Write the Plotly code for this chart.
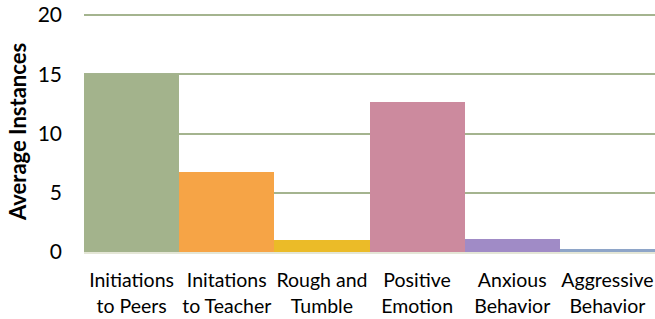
import plotly.graph_objects as go

categories = ["Initiations<br>to Peers", "Initations<br>to Teacher", "Rough and<br>Tumble",
              "Positive<br>Emotion", "Anxious<br>Behavior", "Aggressive<br>Behavior"]
values = [15.0, 6.75, 1.0, 12.65, 1.1, 0.25]
colors = ["#a3b38c", "#f6a446", "#ebbb28", "#cc8a9e", "#a08bc6", "#8ea5c8"]
y_ticks = [0, 5, 10, 15, 20]

fig = go.Figure(go.Bar(x=categories, y=values, marker=dict(color=colors, line=dict(width=0)),
                       width=1.0, hoverinfo="skip"))

fig.update_layout(
    width=655, height=319,
    margin=dict(l=84, r=0, t=11, b=67),
    paper_bgcolor="white", plot_bgcolor="white",
    showlegend=False,
    font=dict(family="Lato, Open Sans, sans-serif", color="#000000"),
    bargap=0,
)
fig.update_xaxes(tickfont=dict(size=19.5), showgrid=False, showline=True, automargin=False,
                 linecolor="#e4e6d6", linewidth=2, ticks="", ticklabelstandoff=10)
fig.update_yaxes(range=[0, 20.34], tickvals=y_ticks, tickfont=dict(size=21), automargin=False,
                 showgrid=True, gridcolor="#a4b48f", gridwidth=2, zeroline=False,
                 ticks="", ticklabelstandoff=21,
                 title=dict(text="<b>Average Instances</b>", font=dict(size=22), standoff=4))
fig.write_html("out.html", config={"displayModeBar": False},
               post_script="document.body.style.margin='0';document.body.style.overflow='hidden';")
